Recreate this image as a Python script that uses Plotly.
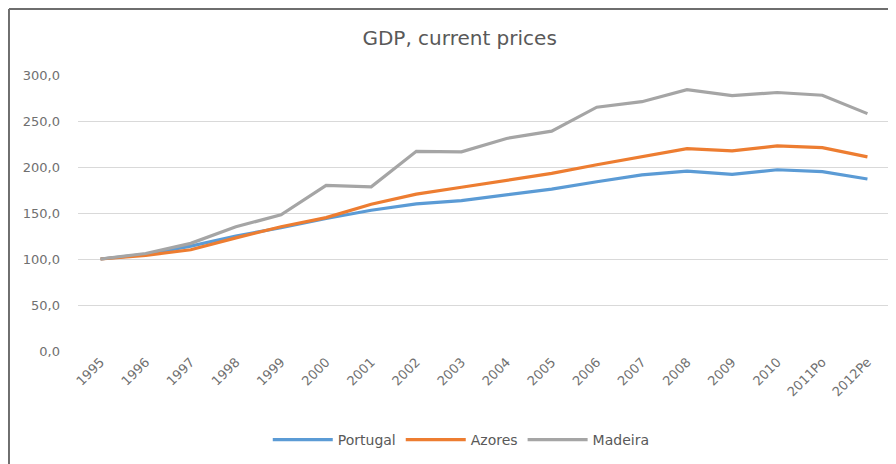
import plotly.graph_objects as go

years = ["1995", "1996", "1997", "1998", "1999", "2000", "2001", "2002", "2003",
         "2004", "2005", "2006", "2007", "2008", "2009", "2010", "2011Po", "2012Pe"]
portugal = [100.0, 105.0, 114.0, 125.0, 134.0, 144.0, 153.0, 160.0, 163.5,
            170.0, 176.0, 184.0, 191.5, 195.5, 192.0, 197.0, 195.0, 187.0]
azores = [100.0, 104.0, 110.0, 123.0, 135.0, 145.0, 159.5, 170.5, 178.0,
          185.5, 193.0, 202.5, 211.0, 220.0, 217.5, 223.0, 221.0, 211.0]
madeira = [100.0, 106.0, 117.0, 135.0, 148.0, 180.0, 178.5, 217.0, 216.5,
           231.0, 239.0, 265.0, 271.0, 284.0, 277.5, 281.0, 278.0, 258.0]
y_ticks = [0, 50, 100, 150, 200, 250, 300]

series = [("Portugal", portugal, "#5b9bd5"),
          ("Azores", azores, "#ed7d31"),
          ("Madeira", madeira, "#a5a5a5")]

fig = go.Figure()
for name, vals, color in series:
    fig.add_trace(go.Scatter(x=years, y=vals, mode="lines", name=name,
                             line=dict(color=color, width=3.2)))

FONT = "DejaVu Sans, sans-serif"
fig.update_layout(
    width=896, height=464,
    margin=dict(l=70, r=14, t=67, b=121),
    paper_bgcolor="white", plot_bgcolor="white",
    separators=",.",
    font=dict(family=FONT, color="#595959", size=12),
    title=dict(text="GDP, current prices", x=0.47, xref="paper", xanchor="center",
               y=1 - 30 / 464, yref="container", yanchor="middle",
               font=dict(family=FONT, size=20, color="#595959")),
    showlegend=True,
    legend=dict(orientation="h", x=0.472, xanchor="center", y=-0.3225, yanchor="middle",
                font=dict(family=FONT, size=14, color="#595959"), itemwidth=60),
    xaxis=dict(type="category", range=[-0.5, 17.5], tickangle=-45, showgrid=False,
               showline=False, ticks="", automargin=False,
               tickfont=dict(family=FONT, size=13, color="#707070")),
    yaxis=dict(range=[0, 300], tickvals=y_ticks, tickformat=".1f", automargin=False,
               showgrid=True, gridcolor="#d9d9d9", gridwidth=1, zeroline=False,
               showline=False, ticks="", ticklabelstandoff=17,
               tickfont=dict(family=FONT, size=13, color="#707070")),
    shapes=[
        dict(type="line", xref="paper", yref="paper", x0=-0.085, x1=1.02,
             y0=1.239, y1=1.239, line=dict(color="#6e6e6e", width=2)),
        dict(type="line", xref="paper", yref="paper", x0=-0.085, x1=-0.085,
             y0=1.239, y1=-0.45, line=dict(color="#6e6e6e", width=2)),
    ],
)

fig.write_html("out.html")
